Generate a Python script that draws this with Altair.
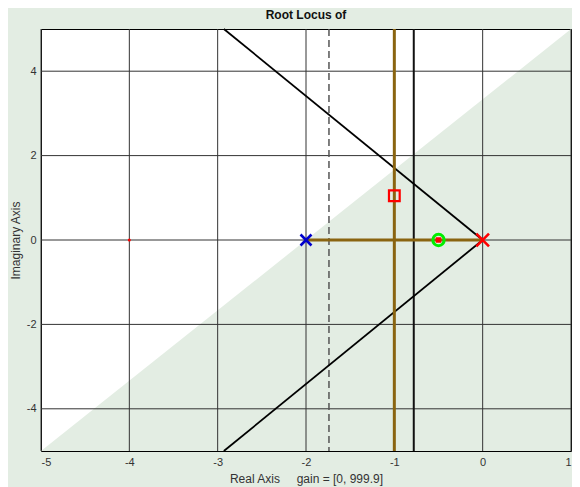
import altair as alt
import pandas as pd

# ---- data ----
x_ticks = [-5, -4, -3, -2, -1, 0, 1]
y_ticks = [-4, -2, 0, 2, 4]
x_domain = [-5, 1]
y_domain = [-5, 5]

# shaded (lower-right) half of the plot area
shade_x = [-5, 1]
shade_y = [-5, 5]
shade_base = -5

# straight lines from the origin
ray_x = [-2.93, 0, -2.93, 0]
ray_y = [5, 0, -5, 0]
ray_id = ["upper", "upper", "lower", "lower"]

vline_dark = [-0.78]
vline_dashed = [-1.74]

# root-locus branches (brown)
locus_vert_x = [-1]
locus_horiz_x = [-2]
locus_horiz_x2 = [0]
locus_horiz_y = [0]

# markers
pole_blue = {"x": [-2], "y": [0]}
pole_red = {"x": [0], "y": [0]}
circle_green = {"x": [-0.5], "y": [0]}
square_fill = {"x": [-0.5], "y": [0]}
square_open = {"x": [-1], "y": [1.05]}
dot_red = {"x": [-4], "y": [0]}

GREEN_BG = "#e3ede3"
BROWN = "#8a6410"
FONT = "Liberation Sans"

xs = alt.Scale(domain=x_domain, nice=False, zero=False)
ys = alt.Scale(domain=y_domain, nice=False, zero=False)

LABEL_EXPR = "'' + datum.value"

x_axis = alt.Axis(values=x_ticks, grid=False, ticks=False, domain=False,
                  labelPadding=5, labelFontSize=11, labelColor="#333333",
                  labelFont=FONT, titleFont=FONT, titleFontSize=12,
                  titleFontWeight="normal", titleColor="#333333", titlePadding=6,
                  labelExpr=LABEL_EXPR)
y_axis = alt.Axis(values=y_ticks, grid=False, ticks=False, domain=False,
                  labelPadding=5, labelFontSize=11, labelColor="#333333",
                  labelFont=FONT, titleFont=FONT, titleFontSize=12,
                  titleFontWeight="normal", titleColor="#333333", titlePadding=4,
                  labelExpr=LABEL_EXPR)

shade = alt.Chart(pd.DataFrame({"x": shade_x, "y": shade_y, "y2": [shade_base] * 2})).mark_area(
    color=GREEN_BG, opacity=1
).encode(
    x=alt.X("x:Q", scale=xs, axis=x_axis, title="Real Axis\u00a0\u00a0\u00a0\u00a0\u00a0gain = [0, 999.9]"),
    y=alt.Y("y:Q", scale=ys, axis=y_axis, title="Imaginary Axis"),
    y2="y2:Q",
)

grid_x = alt.Chart(pd.DataFrame({"x": x_ticks})).mark_rule(color="#333333", strokeWidth=1).encode(x="x:Q")
grid_y = alt.Chart(pd.DataFrame({"y": y_ticks})).mark_rule(color="#333333", strokeWidth=1).encode(y="y:Q")

dashed = alt.Chart(pd.DataFrame({"x": vline_dashed})).mark_rule(
    color="#555555", strokeWidth=1.5, strokeDash=[7, 4]).encode(x="x:Q")
dark = alt.Chart(pd.DataFrame({"x": vline_dark})).mark_rule(
    color="#111111", strokeWidth=2).encode(x="x:Q")

rays = alt.Chart(pd.DataFrame({"x": ray_x, "y": ray_y, "id": ray_id})).mark_line(
    color="black", strokeWidth=1.8).encode(x="x:Q", y="y:Q", detail="id:N")

brown_v = alt.Chart(pd.DataFrame({"x": locus_vert_x})).mark_rule(
    color=BROWN, strokeWidth=3).encode(x="x:Q")
brown_h = alt.Chart(pd.DataFrame({"x": locus_horiz_x, "x2": locus_horiz_x2, "y": locus_horiz_y})).mark_rule(
    color=BROWN, strokeWidth=3).encode(x="x:Q", x2="x2:Q", y="y:Q")

XPATH = "M-1,-1L1,1M1,-1L-1,1"

def pts(d, **kw):
    return alt.Chart(pd.DataFrame(d)).mark_point(**kw).encode(x="x:Q", y="y:Q")

m_dot = pts(dot_red, shape="circle", filled=True, color="#ff0000", size=9, opacity=1)
m_open = pts(square_open, shape="square", filled=False, color="#ff0000", size=115, strokeWidth=2.2, opacity=1)
m_circle = pts(circle_green, shape="circle", filled=False, color="#00ee00", size=130, strokeWidth=3, opacity=1)
m_sq = pts(square_fill, shape="square", filled=True, color="#ff0000", size=30, opacity=1)
m_blue = pts(pole_blue, shape=XPATH, filled=False, color="#0000cc", size=120, strokeWidth=2.6, opacity=1)
m_red = pts(pole_red, shape=XPATH, filled=False, color="#ff0000", size=160, strokeWidth=2.6, opacity=1)

PAGE_CSS = "html,body{background:%s;overflow:hidden}" % GREEN_BG

chart = alt.layer(
    shade, grid_x, grid_y, dashed, dark, rays, brown_v, brown_h,
    m_dot, m_open, m_circle, m_sq, m_blue, m_red
).properties(
    width=530, height=422,
    title=alt.TitleParams("Root Locus of", font=FONT, fontSize=12, fontWeight="bold",
                          color="#111111", anchor="middle", offset=3),
    autosize=alt.AutoSizeParams(type="none"),
    padding={"left": 33, "top": 21, "right": 1, "bottom": 36},
    background=GREEN_BG,
    usermeta={"embedOptions": {"defaultStyle": PAGE_CSS}},
).configure_view(
    fill="white", stroke="black", strokeWidth=1
)

chart.save("out.html", embed_options={"renderer": "svg", "actions": False})
